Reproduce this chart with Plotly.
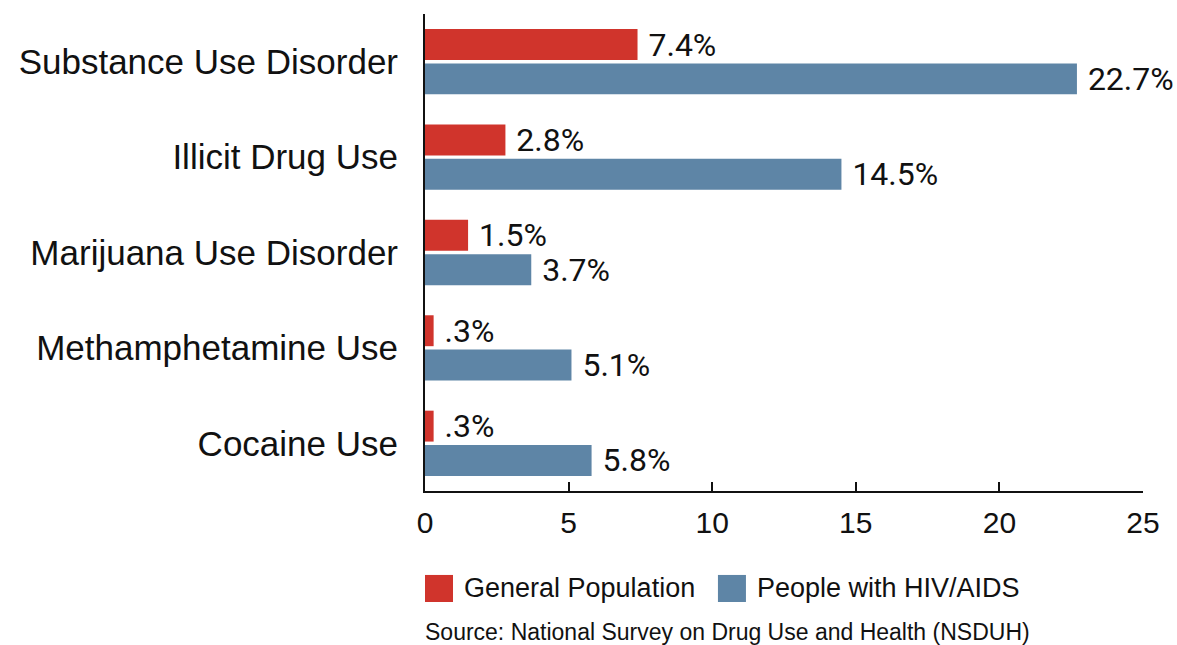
import plotly.graph_objects as go

categories = ["Substance Use Disorder", "Illicit Drug Use", "Marijuana Use Disorder",
              "Methamphetamine Use", "Cocaine Use"]
general_population = [7.4, 2.8, 1.5, 0.3, 0.3]
general_labels = ["7.4%", "2.8%", "1.5%", ".3%", ".3%"]
hiv_aids = [22.7, 14.5, 3.7, 5.1, 5.8]
hiv_labels = ["22.7%", "14.5%", "3.7%", "5.1%", "5.8%"]
x_ticks = [0, 5, 10, 15, 20, 25]
series_names = ["General Population", "People with HIV/AIDS"]
source_text = "Source: National Survey on Drug Use and Health (NSDUH)"

RED = "#d0342c"
BLUE = "#5e85a6"
LABEL_FONT = dict(family="Roboto, Liberation Sans, sans-serif", size=32, color="#111111")

fig = go.Figure()
fig.add_trace(go.Bar(
    y=categories, x=general_population, orientation="h", name=series_names[0],
    marker=dict(color=RED, line=dict(width=0)),
    text=general_labels, texttemplate=" %{text}", textposition="outside",
    textfont=LABEL_FONT, constraintext="none", cliponaxis=False, showlegend=False,
))
fig.add_trace(go.Bar(
    y=categories, x=hiv_aids, orientation="h", name=series_names[1],
    marker=dict(color=BLUE, line=dict(width=0)),
    text=hiv_labels, texttemplate=" %{text}", textposition="outside",
    textfont=LABEL_FONT, constraintext="none", cliponaxis=False, showlegend=False,
))

# legend drawn as swatches + text below the axis
legend_items = [(series_names[0], RED, 0.0), (series_names[1], BLUE, 0.408)]
shapes = []
annotations = []
for name, color, x0 in legend_items:
    shapes.append(dict(type="rect", xref="paper", yref="paper",
                       x0=x0, x1=x0 + 0.039, y0=-0.2327, y1=-0.176,
                       fillcolor=color, line=dict(width=0)))
    annotations.append(dict(text=name, xref="paper", yref="paper",
                            x=x0 + 0.051, y=-0.2044, xanchor="left", yanchor="middle",
                            showarrow=False,
                            font=dict(family="Liberation Sans, Arial, sans-serif", size=27, color="#111111")))
annotations.append(dict(text=source_text, xref="paper", yref="paper",
                        x=-0.003, y=-0.2956, xanchor="left", yanchor="middle", showarrow=False,
                        font=dict(family="Liberation Sans, Arial, sans-serif", size=23, color="#111111")))

fig.update_layout(
    width=1177, height=645,
    margin=dict(l=425, r=34, t=14, b=154),
    paper_bgcolor="white", plot_bgcolor="white",
    barmode="group", bargap=0.28, bargroupgap=0.1,
    showlegend=False,
    shapes=shapes, annotations=annotations,
    font=dict(family="Liberation Sans, Arial, sans-serif", color="#111111"),
)
fig.update_xaxes(
    range=[0, 25], tickvals=x_ticks, ticktext=[str(v) for v in x_ticks],
    showgrid=False, zeroline=False,
    showline=True, linecolor="#111111", linewidth=2,
    ticks="inside", ticklen=9, tickwidth=1.5, tickcolor="#111111",
    tickfont=dict(family="Liberation Sans, Arial, sans-serif", size=30, color="#111111"),
    ticklabelstandoff=4,
)
fig.update_yaxes(
    categoryorder="array", categoryarray=categories, autorange="reversed",
    showgrid=False, zeroline=False,
    showline=True, linecolor="#111111", linewidth=2,
    ticks="", tickfont=dict(family="Liberation Sans, Arial, sans-serif", size=35, color="#111111"),
    ticklabelstandoff=18,
)

fig.write_html("out.html")
